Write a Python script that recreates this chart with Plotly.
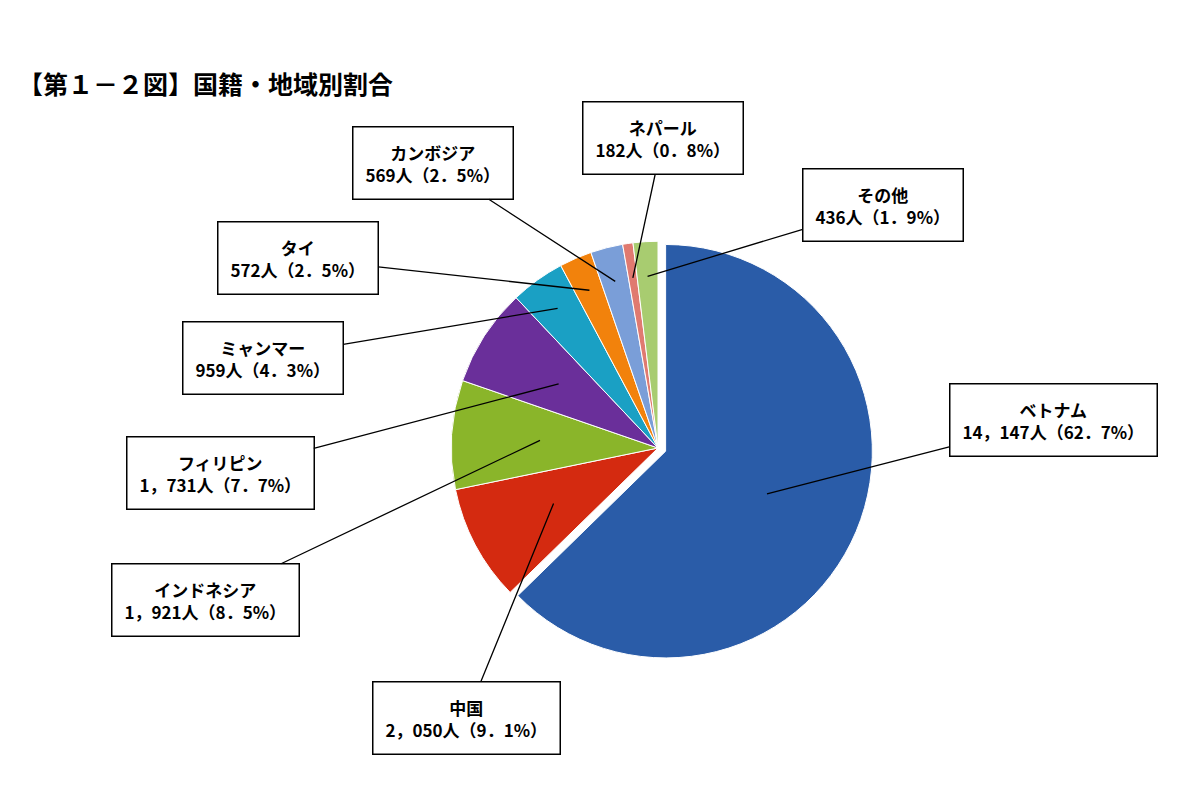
import math
import plotly.graph_objects as go

# 国籍・地域別データ（時計回り、12時の位置から）
countries = ["ベトナム", "中国", "インドネシア", "フィリピン", "ミャンマー",
             "タイ", "カンボジア", "ネパール", "その他"]
people = [14147, 2050, 1921, 1731, 959, 572, 569, 182, 436]
label_text = ["14，147人（62．7%）", "2，050人（9．1%）", "1，921人（8．5%）",
              "1，731人（7．7%）", "959人（4．3%）", "572人（2．5%）",
              "569人（2．5%）", "182人（0．8%）", "436人（1．9%）"]
colors = ["#2a5ca8", "#d42a10", "#8ab52a", "#6a2f9a", "#1aa0c4",
          "#f2820c", "#7a9ed8", "#e07a70", "#a8cc70"]
# 吹き出しの位置（ピクセル）
box_x = [1045, 458, 197, 212, 255, 290, 425, 655, 875]
box_y = [412, 710, 592, 465, 350, 250, 155, 130, 197]

W, H = 1200, 800
cx, cy, r = 650, 440, 215

fig = go.Figure(go.Pie(
    labels=countries, values=people, sort=False, direction="clockwise",
    rotation=0, textinfo="none", hoverinfo="label+value+percent",
    pull=[0.04, 0, 0, 0, 0, 0, 0, 0, 0],
    marker=dict(colors=colors, line=dict(color="white", width=1)),
    domain=dict(x=[(cx - r) / W, (cx + r) / W], y=[1 - (cy + r) / H, 1 - (cy - r) / H]),
    showlegend=False,
))

total = sum(people)
cum = 0
for i, name in enumerate(countries):
    mid = (cum + people[i] / 2) / total
    cum += people[i]
    ang = math.radians(90 - 360 * mid)
    k = 0.55 if people[i] > 1000 else 0.8
    hx = cx + k * r * math.cos(ang)
    hy = cy - k * r * math.sin(ang)
    fig.add_annotation(
        x=hx / W, y=1 - hy / H, xref="paper", yref="paper",
        ax=box_x[i] - hx, ay=box_y[i] - hy,
        text=f"<b>{name}</b><br><b>{label_text[i]}</b>", showarrow=True, arrowhead=0,
        arrowwidth=1.3, arrowcolor="black", bordercolor="black", borderwidth=1.5,
        borderpad=12, bgcolor="white", align="center",
        font=dict(size=17, color="black", family="Noto Sans CJK JP"),
    )

fig.add_annotation(x=8 / W, y=1 - 75 / H, xref="paper", yref="paper",
                   xanchor="left", yanchor="middle", showarrow=False,
                   text="<b>【第１－２図】国籍・地域別割合</b>",
                   font=dict(size=25, color="black", family="Noto Sans CJK JP"))

fig.update_layout(width=W, height=H, margin=dict(l=0, r=0, t=0, b=0),
                  paper_bgcolor="white", plot_bgcolor="white")
fig.write_html("out.html")
